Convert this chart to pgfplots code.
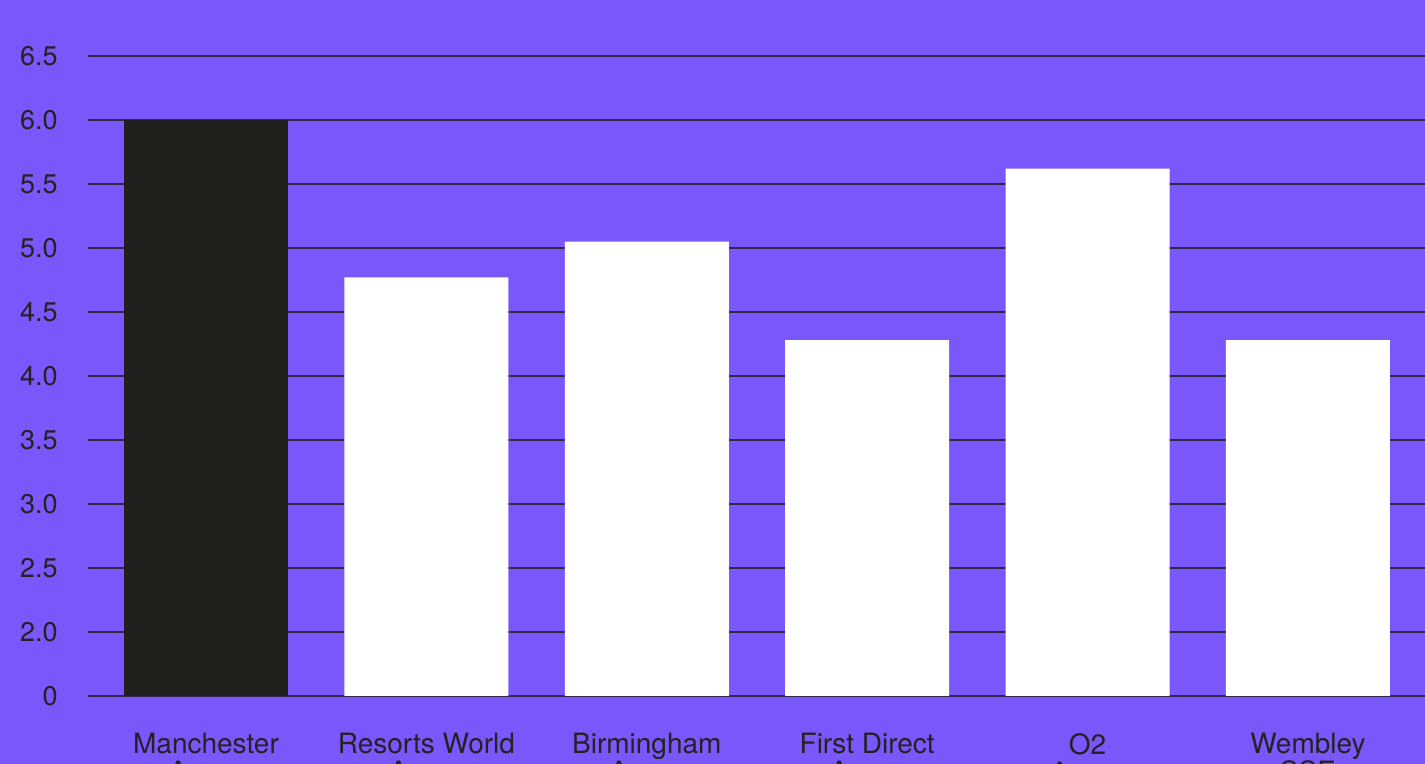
\documentclass[border=0pt]{standalone}
\usepackage{pgfplots}
\pgfplotsset{compat=1.18}
\usepackage{fontspec}
\setmainfont{TeX Gyre Heros}
\definecolor{bg}{HTML}{7A57FB}
\definecolor{barblack}{HTML}{1F1F1E}
\definecolor{gridc}{HTML}{2F2A4A}
\definecolor{txt}{HTML}{222222}

% bars
\pgfplotstableread{
x val
0 6.00
}\darkbar
\pgfplotstableread{
x val
1 4.77
2 5.05
3 4.28
4 5.62
5 4.28
}\whitebars

\begin{document}
\begin{tikzpicture}
\fill[bg] (-44pt,-34pt) rectangle (668.5pt,348pt);
\begin{axis}[
    width=668.5pt, height=348pt,
    scale only axis,
    at={(0,0)}, anchor=south west,
    xmin=-0.5354, xmax=5.531,
    ymin=1.5, ymax=6.9375,
    axis line style={draw=none},
    major tick length=0pt,
    ymajorgrids,
    grid style={gridc, line width=0.6pt},
    ytick={1.5,2,2.5,3,3.5,4,4.5,5,5.5,6,6.5},
    yticklabels={0,2.0,2.5,3.0,3.5,4.0,4.5,5.0,5.5,6.0,6.5},
    xtick={0,1,2,3,4,5},
    xticklabels={{Manchester\\Arena},{Resorts World\\Arena},{Birmingham\\Arena},{First Direct\\Arena},{O2\\Arena},{Wembley\\SSE}},
    /pgf/number format/assume math mode=true,
    yticklabel style={anchor=east, inner sep=0pt, xshift=-15pt, text=txt, font=\fontsize{13.5}{14}\selectfont},
    xticklabel style={anchor=north, inner sep=0pt, yshift=-18.5pt, align=center, text=txt, font=\fontsize{14}{14}\selectfont},
    ybar, bar width=82pt, bar shift=0pt,
    clip=true,
]
\addplot[fill=barblack, draw=none] table[x=x, y=val] {\darkbar};
\addplot[fill=white, draw=none] table[x=x, y=val] {\whitebars};
\end{axis}
\pgfresetboundingbox
\useasboundingbox (-44pt,-34pt) rectangle (668.5pt,348pt);
\end{tikzpicture}
\end{document}
